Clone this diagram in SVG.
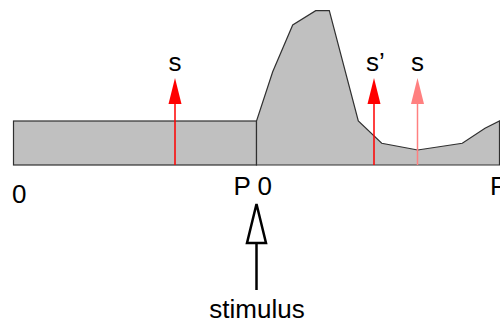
<svg xmlns="http://www.w3.org/2000/svg" width="500" height="324" viewBox="0 0 500 324">
<style>
.t{font-family:"Liberation Sans",Arial,sans-serif;font-size:26px;fill:#000}
.sh{fill:#c0c0c0;stroke:#303030;stroke-width:1.2}
</style>
<rect width="500" height="324" fill="#fff"/>
<g id="left-segment">
<rect class="sh" x="13.5" y="121" width="243" height="44"/>
</g>
<g id="right-segment">
<path class="sh" d="M256.5,165 L256.5,121 L272.7,71.7 L292.7,25 L315.7,10.7 L329.3,10.7 L358.3,121 L381.7,143.3 L417.7,150 L462.3,143.3 L485,128.3 L499.5,121 L499.5,165 Z"/>
</g>
<g id="connectors">
<line x1="175" y1="165" x2="175" y2="103" stroke="#ff0000" stroke-width="1.5"/>
<polygon points="175,78 168.5,104 181.5,104" fill="#ff0000"/>
<line x1="374" y1="165" x2="374" y2="103" stroke="#ff0000" stroke-width="1.5"/>
<polygon points="374,78 367.5,104 380.5,104" fill="#ff0000"/>
<line x1="417.5" y1="165" x2="417.5" y2="103" stroke="#ff8080" stroke-width="1.5"/>
<polygon points="417.5,78 411,104 424,104" fill="#ff8080"/>
<line x1="256.5" y1="290" x2="256.5" y2="243" stroke="#000" stroke-width="2.5"/>
<polygon points="256.5,204 247,243 266,243" fill="#fff" stroke="#000" stroke-width="2.5" stroke-linejoin="miter"/>
</g>
<g id="labels">
<text class="t" x="175" y="70.5" text-anchor="middle">s</text>
<text class="t" x="366" y="70.5">s’</text>
<text class="t" x="417.5" y="70.5" text-anchor="middle">s</text>
<text class="t" x="12" y="202.5">0</text>
<text class="t" x="233.5" y="195">P 0</text>
<text class="t" x="490" y="195">P</text>
<text class="t" x="257" y="318" text-anchor="middle">stimulus</text>
</g>
</svg>
